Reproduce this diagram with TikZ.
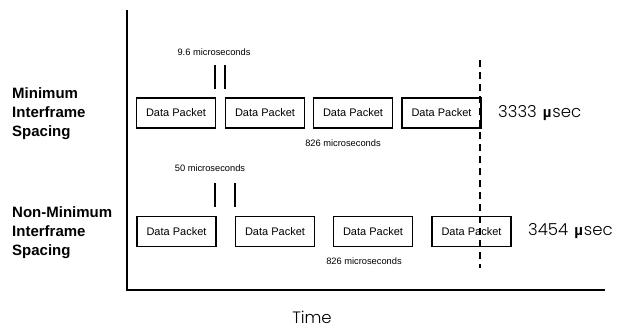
\documentclass[tikz,border=0pt]{standalone}
\usepackage{fontspec}
\setmainfont{Liberation Sans}
\newfontfamily\geo{Poppins Light}
\begin{document}
\begin{tikzpicture}[x=1pt,y=-1pt,
  packet/.style={draw,line width=1.2pt,minimum width=79pt,minimum height=30pt,inner sep=0pt,font=\fontsize{11}{13}\selectfont},
  rowlabel/.style={anchor=west,align=left,inner sep=0pt,font=\bfseries\fontsize{15}{19}\selectfont},
  note/.style={inner sep=0pt,font=\fontsize{9.3}{11}\selectfont},
  total/.style={anchor=west,inner sep=0pt,font=\geo\fontsize{16.5}{18}\selectfont},
  axis/.style={line width=2.8pt},
  tick/.style={line width=1.3pt},
  marker/.style={line width=1.5pt,dash pattern=on 7pt off 5pt}]
\useasboundingbox (0,0) rectangle (630,329);

% axes
\coordinate (top) at (127,10);
\coordinate (origin) at (127,290);
\coordinate (right) at (605,290);
\draw[axis] (top) -- (origin) -- (right);

% row labels
\node[rowlabel] (lab1) at (12,114) {Minimum\\Interframe\\Spacing};
\node[rowlabel] (lab2) at (12,233) {Non-Minimum\\Interframe\\Spacing};

% minimum spacing row
\node[packet] (a1) at (176,113) {Data Packet};
\node[packet] (a2) at (265,113) {Data Packet};
\node[packet] (a3) at (353,113) {Data Packet};
\node[packet] (a4) at (441.5,113) {Data Packet};
\coordinate (ga1) at (215,65); \coordinate (gb1) at (215,89);
\coordinate (ga2) at (225,65); \coordinate (gb2) at (225,89);
\draw[tick] (ga1) -- (gb1);
\draw[tick] (ga2) -- (gb2);
\node[note] (gap1) at (214,52) {9.6 microseconds};
\node[note] (len1) at (343,143) {826 microseconds};
\node[total] (tot1) at (498,113) {3333\hspace{6pt}{\fontspec{Liberation Sans}\bfseries\fontsize{15}{18}\selectfont µ}\hspace{1pt}sec};

% non-minimum spacing row
\node[packet] (b1) at (176.5,231.5) {Data Packet};
\node[packet] (b2) at (275,231.5) {Data Packet};
\node[packet] (b3) at (373,231.5) {Data Packet};
\node[packet] (b4) at (471.5,231.5) {Data Packet};
\coordinate (ha1) at (215,183); \coordinate (hb1) at (215,207);
\coordinate (ha2) at (235,183); \coordinate (hb2) at (235,207);
\draw[tick] (ha1) -- (hb1);
\draw[tick] (ha2) -- (hb2);
\node[note] (gap2) at (210,168) {50 microseconds};
\node[note] (len2) at (364,261) {826 microseconds};
\node[total] (tot2) at (528,231.5) {3454\hspace{6pt}{\fontspec{Liberation Sans}\bfseries\fontsize{15}{18}\selectfont µ}\hspace{1pt}sec};

% end-of-time marker
\coordinate (mtop) at (480,60);
\coordinate (mbot) at (480,268);
\draw[marker] (mtop) -- (mbot);

% time axis label
\node[inner sep=0pt,font=\geo\fontsize{16.5}{18}\selectfont] (time) at (312,317) {Time};
\end{tikzpicture}
\end{document}
